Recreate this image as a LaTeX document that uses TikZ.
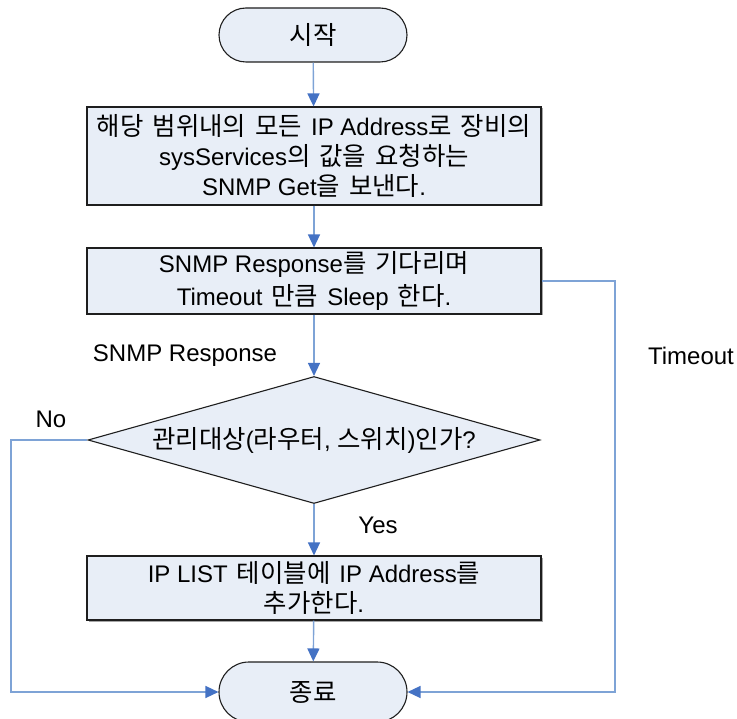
\documentclass[tikz,border=0pt]{standalone}
\usepackage{fontspec}
\setmainfont{Liberation Sans}
\newfontfamily\kr[Scale=1.06]{Noto Sans CJK KR}
\usetikzlibrary{arrows.meta,shapes.geometric,shadows}

% wider word spaces for the Hangul font at the size used below
\AtBeginDocument{{\fontsize{24}{30}\selectfont\kr\fontdimen2\font=9pt\relax}}

\definecolor{boxfill}{RGB}{232,238,247}
\definecolor{linkblue}{RGB}{126,163,214}
\definecolor{tipblue}{RGB}{68,114,196}
\definecolor{edgegray}{RGB}{30,30,30}

\tikzset{
  base/.style={draw=edgegray, line width=1.1pt, fill=boxfill, align=center,
    font=\fontsize{24}{30}\selectfont, inner sep=0pt},
  terminal/.style={base, minimum width=188pt, rounded corners=#1, minimum height=2*#1},
  process/.style={base, minimum width=454pt,
    drop shadow={shadow xshift=1.5pt, shadow yshift=-1.5pt, fill=gray!70, opacity=1}},
  decision/.style={base, shape=diamond, aspect=3.56, minimum width=452pt, minimum height=127pt},
  conn/.style={draw=linkblue, line width=1.4pt,
    -{Triangle[length=13pt, width=12pt, color=tipblue]}},
  lbl/.style={font=\fontsize{24}{30}\selectfont, inner sep=0pt}
}

\begin{document}
\begin{tikzpicture}[x=1pt, y=-1pt]
  \useasboundingbox (0,0) rectangle (737,719);

  % flow nodes, top to bottom
  \node[terminal=27pt] (start) at (313,35) {{\kr 시작}};
  \node[process, minimum height=98pt] (send) at (314,156)
    {{\kr 해당 범위내의 모든\ }IP Address{\kr 로 장비의}\\
     sysServices{\kr 의 값을 요청하는}\\
     SNMP Get{\kr 을 보낸다}.};
  \node[process, minimum height=66pt, font=\fontsize{24}{33}\selectfont] (wait) at (314,281)
    {SNMP Response{\kr 를 기다리며}\\
     Timeout{\kr\ 만큼\ }Sleep{\kr\ 한다}.};
  \node[decision] (check) at (314,440)
    {{\kr 관리대상}({\kr 라우터}, {\kr 스위치}){\kr 인가}?};
  \node[process, minimum height=64pt] (add) at (314,588)
    {IP LIST{\kr\ 테이블에\ }IP Address{\kr 를}\\
     {\kr 추가한다}.};
  \node[terminal=30pt] (stop) at (313,692) {{\kr 종료}};

  % corner columns of the side routes
  \coordinate (leftcol) at (11,0);
  \coordinate (rightcol) at (615,0);

  % connectors
  \draw[conn] (start) -- (send);
  \draw[conn] (send) -- (wait);
  \draw[conn] (wait) -- (check);
  \draw[conn] (check) -- (add);
  \draw[conn] (add) -- (stop);
  \draw[conn] (check.west) -| (leftcol |- stop.west) -- (stop.west);
  \draw[conn] (wait.east) -| (rightcol |- stop.east) -- (stop.east);

  % branch labels
  \node[lbl] (lresp) at (185,356) {SNMP Response};
  \node[lbl] (ltime) at (691,356) {Timeout};
  \node[lbl] (lno) at (51,419) {No};
  \node[lbl] (lyes) at (378,525) {Yes};
\end{tikzpicture}
\end{document}
